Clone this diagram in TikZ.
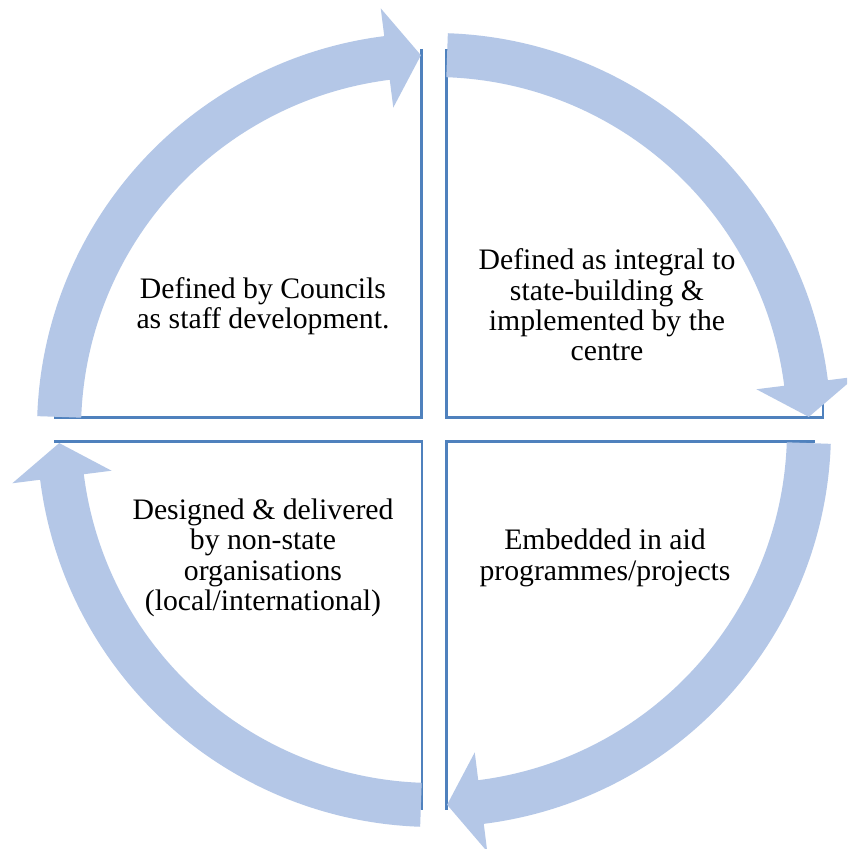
\documentclass[tikz,border=0pt]{standalone}
\usepackage{fontspec}
\setmainfont{Liberation Serif}
\usetikzlibrary{calc}
\definecolor{arrowblue}{RGB}{180,199,231}
\definecolor{lineblue}{RGB}{79,129,189}
\tikzset{
  arrowfill/.style={fill=arrowblue},
  quadline/.style={draw=lineblue, line width=1.9pt, line join=miter},
  quadtext/.style={align=center, inner sep=0pt, font=\fontsize{22.3}{22.8}\selectfont},
}
% tail angle, tip angle, head base angle
\newcommand{\cyclearrow}[3]{%
  \fill[arrowfill] ($(C)+(#1:397)$) arc[start angle=#1, end angle=#3, radius=297.75pt]
    -- ($(C)+(#3:425)$) -- ($(C)+(#2:375)$) -- ($(C)+(#3:325)$)
    -- ($(C)+(#3:353)$) arc[start angle=#3, end angle=#1, radius=264.75pt] -- cycle;}
\begin{document}
\begin{tikzpicture}[x=0.75pt, y=0.75pt]
  \clip (0,0) rectangle (847,849);
  \fill[white] (0,0) rectangle (847,849);
  \coordinate (C) at (434,419);
  % quadrant outlines
  \draw[quadline] (421.5,800) -- (421.5,431.5) -- (54,431.5);
  \draw[quadline] (446.5,800) -- (446.5,431.5) -- (823,431.5) -- (823,470);
  \draw[quadline] (54,407.5) -- (422,407.5) -- (422,39);
  \draw[quadline] (815,407.5) -- (446.5,407.5) -- (446.5,39);
  % circular arrows
  \cyclearrow{178}{92}{97.2}
  \cyclearrow{88}{2}{7.2}
  \cyclearrow{-2}{-88}{-82.8}
  \cyclearrow{-92}{-178}{-172.8}
  % texts
  \node[quadtext] (tl) at (263,543) {Defined by Councils\\as staff development.};
  \node[quadtext] (tr) at (607,544) {Defined as integral to\\state-building \&\\implemented by the\\centre};
  \node[quadtext] (bl) at (263,291) {Designed \& delivered\\by non-state\\organisations\\(local/international)};
  \node[quadtext] (br) at (605,291) {Embedded in aid\\programmes/projects};
\end{tikzpicture}
\end{document}
